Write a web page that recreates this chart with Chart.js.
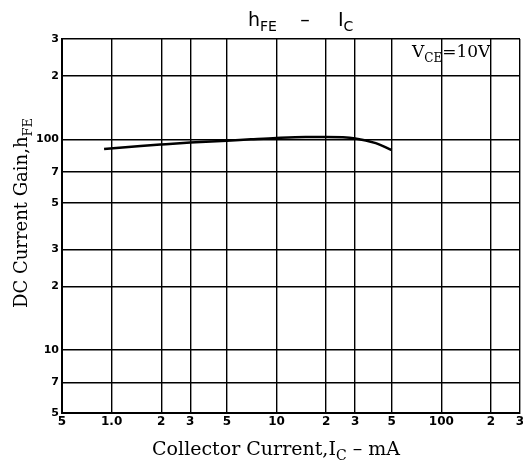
<!DOCTYPE html>
<html>
<head>
<meta charset="utf-8">
<script src="https://cdn.jsdelivr.net/npm/chart.js@4/dist/chart.umd.min.js"></script>
<style>
  html, body { margin: 0; padding: 0; background: #fff; }
  #wrap { width: 523px; height: 460px; position: relative; }
</style>
</head>
<body>
<div id="wrap"><canvas id="c"></canvas></div>
<script>
// --- Data (VCE = 10V) ---
const icMilliamps = [0.9, 1.5, 2, 3, 5, 7, 10, 15, 20, 30, 40, 50];
const hfeValues   = [90, 93, 94.5, 96.5, 98.5, 100, 101.5, 102.5, 102.5, 101, 96, 89];

// --- Axis ticks (log grid) ---
const xTickValues = [0.5, 1, 2, 3, 5, 10, 20, 30, 50, 100, 200, 300];
const xTickLabels = ['5', '1.0', '2', '3', '5', '10', '2', '3', '5', '100', '2', '3'];
const yTickValues = [5, 7, 10, 20, 30, 50, 70, 100, 200, 300];
const yTickLabels = ['5', '7', '10', '2', '3', '5', '7', '100', '2', '3'];

const INK = '#000';
const SERIF = '"DejaVu Serif", "Liberation Serif", serif';
const SANS = '"DejaVu Sans", "Liberation Sans", sans-serif';

// text with subscript pieces: parts = [[text, isSub], ...]
function drawRich(ctx, parts, x, y, size, family, align) {
  const subSize = Math.round(size * 0.72);
  let total = 0;
  parts.forEach(([t, sub]) => {
    ctx.font = (sub ? subSize : size) + 'px ' + family;
    total += ctx.measureText(t).width;
  });
  let cx = align === 'center' ? x - total / 2 : x;
  ctx.textAlign = 'left';
  ctx.textBaseline = 'alphabetic';
  parts.forEach(([t, sub]) => {
    ctx.font = (sub ? subSize : size) + 'px ' + family;
    ctx.fillText(t, cx, sub ? y + size * 0.28 : y);
    cx += ctx.measureText(t).width;
  });
}

const labelsPlugin = {
  id: 'datasheetLabels',
  afterDraw(chart) {
    const { ctx } = chart;
    ctx.save();
    ctx.fillStyle = INK;

    // title, pieces spread out like the printed sheet
    drawRich(ctx, [['h', false], ['FE', true]], 248, 26, 19, SANS, 'left');
    drawRich(ctx, [['\u2013', false]], 305, 26, 19, SANS, 'center');
    drawRich(ctx, [['I', false], ['C', true]], 338, 26, 19, SANS, 'left');

    // VCE note in the top-right cell
    drawRich(ctx, [['V', false], ['CE', true], ['=10V', false]], 412, 57, 17, SERIF, 'left');

    // x axis title
    drawRich(ctx, [['Collector Current,I', false], ['C', true], [' \u2013 mA', false]],
      276, 455, 19, SERIF, 'center');

    // y axis title (rotated)
    ctx.translate(27, 213);
    ctx.rotate(-Math.PI / 2);
    drawRich(ctx, [['DC Current Gain,h', false], ['FE', true]], 0, 0, 18, SERIF, 'center');
    ctx.restore();
  }
};

new Chart(document.getElementById('c'), {
  type: 'line',
  data: {
    datasets: [{
      data: icMilliamps.map((x, i) => ({ x, y: hfeValues[i] })),
      borderColor: INK,
      borderWidth: 2.5,
      pointRadius: 0,
      tension: 0.4,
      cubicInterpolationMode: 'monotone'
    }]
  },
  options: {
    responsive: true,
    maintainAspectRatio: false,
    animation: false,
    layout: { padding: { top: 39, right: 3, left: 0, bottom: 0 } },
    plugins: { legend: { display: false }, tooltip: { enabled: false } },
    scales: {
      x: {
        type: 'logarithmic',
        min: 0.5,
        max: 300,
        afterBuildTicks: s => { s.ticks = xTickValues.map(v => ({ value: v })); },
        afterFit: s => { s.height = 47; s.paddingLeft = 0; s.paddingRight = 0; },
        ticks: {
          autoSkip: false,
          maxRotation: 0,
          padding: 2,
          color: INK,
          font: { family: SANS, size: 12, weight: 'bold' },
          callback: (v, i) => xTickLabels[i]
        },
        grid: { color: INK, lineWidth: 1.4, drawTicks: false },
        border: { color: INK, width: 2 }
      },
      y: {
        type: 'logarithmic',
        min: 5,
        max: 300,
        afterBuildTicks: s => { s.ticks = yTickValues.map(v => ({ value: v })); },
        afterFit: s => { s.width = 62; },
        ticks: {
          autoSkip: false,
          padding: 3,
          color: INK,
          font: { family: SANS, size: 11, weight: 'bold' },
          callback: (v, i) => yTickLabels[i]
        },
        grid: { color: INK, lineWidth: 1.4, drawTicks: false },
        border: { color: INK, width: 2 }
      }
    }
  },
  plugins: [labelsPlugin]
});
</script>
</body>
</html>
